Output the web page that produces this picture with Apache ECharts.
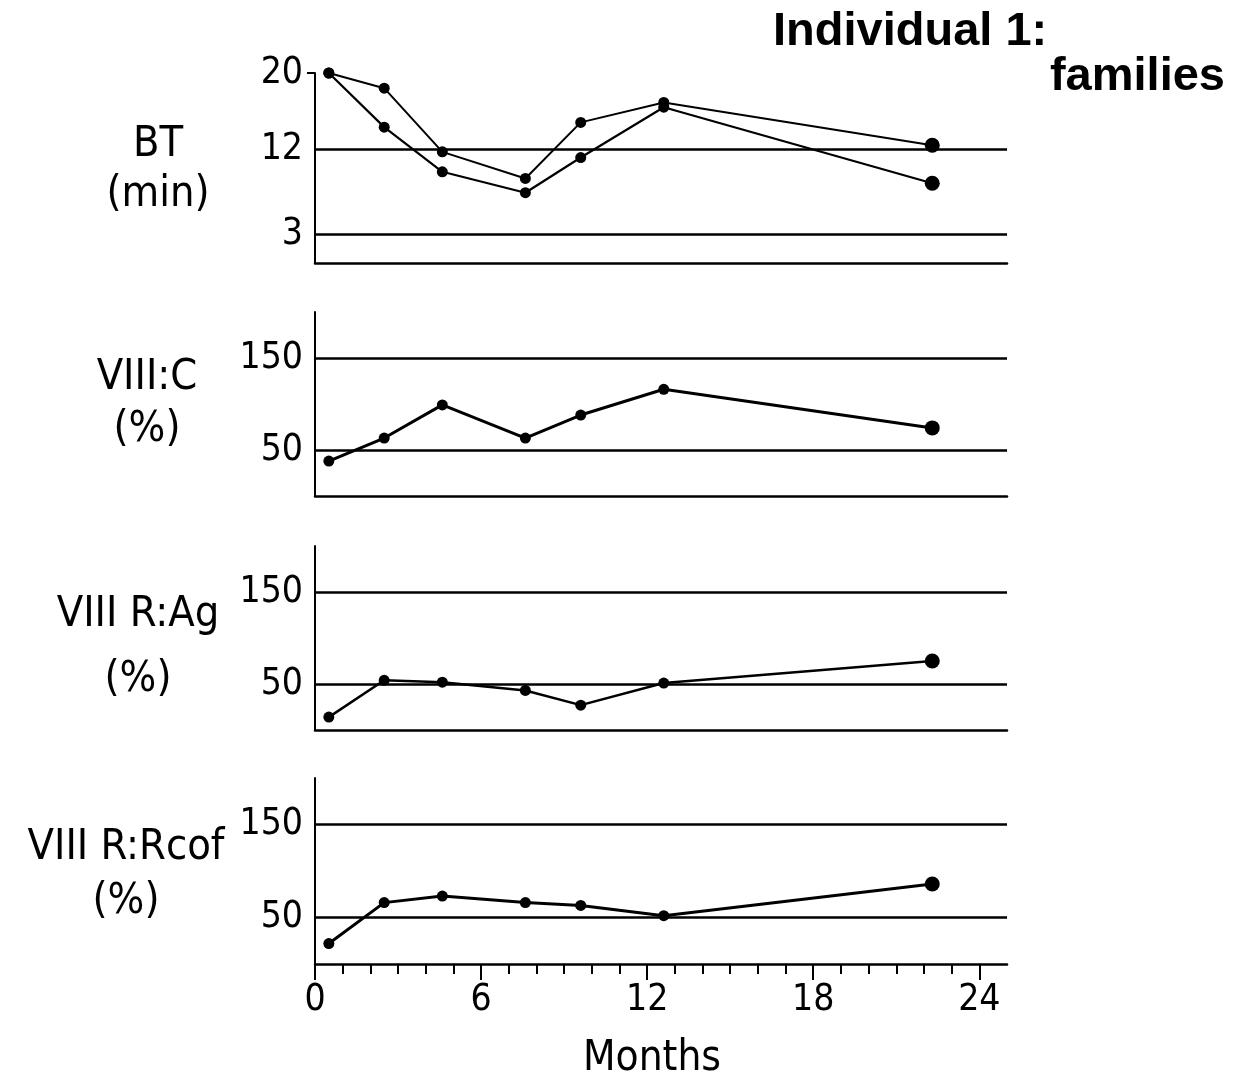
<!DOCTYPE html>
<html><head><meta charset="utf-8">
<script src="https://cdn.jsdelivr.net/npm/echarts@6/dist/echarts.min.js"></script>
<style>html,body{margin:0;padding:0;background:#fff}#c{width:1248px;height:1080px}</style>
</head><body><div id="c"></div>
<script>
const months = [0.5, 2.5, 4.6, 7.6, 9.6, 12.6, 22.3];
const btA = [20, 18.4, 11.7, 8.9, 14.8, 16.9, 12.4];
const btB = [20, 14.3, 9.6, 7.4, 11.1, 16.4, 8.4];
const viiiC = [38, 63, 99, 63, 88, 116, 74];
const viiiRAg = [14, 54, 52, 43, 27, 51, 75];
const viiiRRcof = [22, 66, 73, 66, 63, 52, 86];
const btRefLines = [3, 12];
const pctRefLines = [50, 150];
const btTicks = [3, 12, 20];
const pctTicks = [50, 150];
const xTicks = [0, 6, 12, 18, 24];
const panelTitles = [['BT', '(min)'], ['VIII:C', '(%)'], ['VIII R:Ag', '(%)'], ['VIII R:Rcof', '(%)']];

const FONT = 'DejaVu Sans Condensed';
const chart = echarts.init(document.getElementById('c'));
const grids = [
  {left: 315, width: 692, top: 73, height: 190, outerBoundsMode: 'none', containLabel: false},
  {left: 315, width: 692, top: 312, height: 184, outerBoundsMode: 'none', containLabel: false},
  {left: 315, width: 692, top: 546, height: 184, outerBoundsMode: 'none', containLabel: false},
  {left: 315, width: 692, top: 778, height: 186, outerBoundsMode: 'none', containLabel: false}
];
const pts = (vals, bigLast) => vals.map((v, i) => ({value: [months[i], v], symbolSize: (bigLast && i === vals.length - 1) ? 15 : 11}));
function yAx(idx, max, ticks) {
  return {
    gridIndex: idx, type: 'value', min: 0, max: max,
    axisLine: {show: true, lineStyle: {color: '#000', width: 2}},
    axisTick: {show: idx === 0, customValues: [20], length: 8, inside: false, lineStyle: {color: '#000', width: 2}},
    splitLine: {show: false},
    axisLabel: {customValues: ticks, color: '#000', fontSize: 37, fontFamily: FONT, margin: 12}
  };
}
function xAx(idx) {
  const last = idx === 3;
  return {
    gridIndex: idx, type: 'value', min: 0, max: 25, interval: 6,
    axisLine: {show: true, onZero: false, lineStyle: {color: '#000', width: 2.5}},
    axisTick: {show: last, customValues: xTicks, length: 16, lineStyle: {color: '#000', width: 2}},
    minorTick: {show: last, splitNumber: 6, length: 10, lineStyle: {color: '#000', width: 2}},
    splitLine: {show: false}, minorSplitLine: {show: false},
    axisLabel: {show: last, customValues: xTicks, color: '#000', fontSize: 37, fontFamily: FONT, margin: 18},
    name: last ? 'Months' : '', nameLocation: 'middle', nameGap: 74,
    nameTextStyle: {color: '#000', fontSize: 42, fontFamily: FONT, padding: [0, 18, 0, 0]}
  };
}
const ml = (vals) => ({silent: true, symbol: 'none', label: {show: false},
  lineStyle: {color: '#000', width: 2.5, type: 'solid'}, data: vals.map(v => ({yAxis: v}))});
const lineSeries = (idx, vals, refs, w) => ({
  type: 'line', xAxisIndex: idx, yAxisIndex: idx, data: pts(vals, true),
  symbol: 'circle', lineStyle: {color: '#000', width: w}, itemStyle: {color: '#000'},
  animation: false, markLine: refs ? ml(refs) : undefined, z: 3
});
const graphic = [];
const titleY = [[145, 195], [378, 430], [615, 680], [848, 902]];
const titleX = [158, 147, 138, 126];
panelTitles.forEach((t, i) => {
  t.forEach((s, j) => graphic.push({type: 'text', x: titleX[i], y: titleY[i][j],
    style: {text: s, fontSize: 43, fontFamily: FONT, fill: '#000', align: 'center', verticalAlign: 'middle'}}));
});
graphic.push({type: 'text', x: 773, y: 32, style: {text: 'Individual 1:', fontSize: 47, fontWeight: 'bold', fontFamily: 'Liberation Sans', fill: '#000', align: 'left', verticalAlign: 'middle'}});
graphic.push({type: 'text', x: 1225, y: 77, style: {text: 'families', fontSize: 47, fontWeight: 'bold', fontFamily: 'Liberation Sans', fill: '#000', align: 'right', verticalAlign: 'middle'}});

chart.setOption({
  animation: false,
  grid: grids,
  xAxis: [0, 1, 2, 3].map(xAx),
  yAxis: [yAx(0, 20, btTicks), yAx(1, 200, pctTicks), yAx(2, 200, pctTicks), yAx(3, 200, pctTicks)],
  series: [
    lineSeries(0, btA, btRefLines, 2),
    lineSeries(0, btB, null, 2.2),
    lineSeries(1, viiiC, pctRefLines, 3),
    lineSeries(2, viiiRAg, pctRefLines, 2.5),
    lineSeries(3, viiiRRcof, pctRefLines, 3)
  ],
  graphic: graphic
});
</script></body></html>
